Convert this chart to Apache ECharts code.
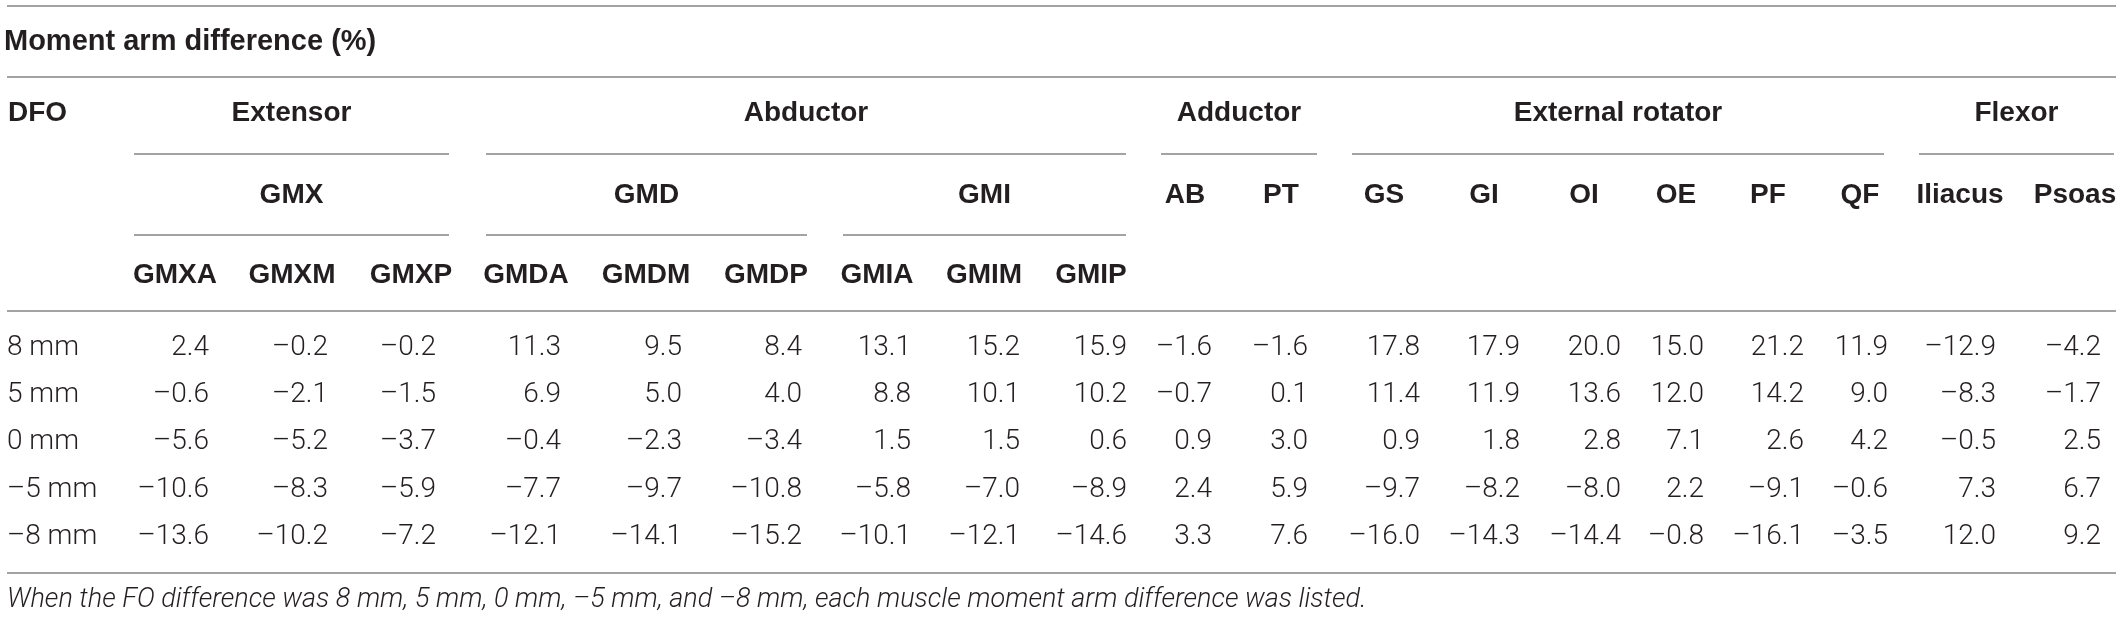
<!DOCTYPE html>
<html><head><meta charset="utf-8">
<script src="https://cdn.jsdelivr.net/npm/echarts@6/dist/echarts.min.js"></script>
<style>html,body{margin:0;padding:0;background:#fff}#c{width:2122px;height:618px}</style>
</head><body><div id="c"></div>
<script>
// ---------------- data ----------------
const TITLE = 'Moment arm difference (%)';
const ROW_HEAD = 'DFO';
const ROWS = ['8 mm', '5 mm', '0 mm', '–5 mm', '–8 mm'];
const COLUMNS = ['GMXA','GMXM','GMXP','GMDA','GMDM','GMDP','GMIA','GMIM','GMIP','AB','PT','GS','GI','OI','OE','PF','QF','Iliacus','Psoas'];
const GROUPS = ['Extensor', 'Abductor', 'Adductor', 'External rotator', 'Flexor'];
const GROUP_COLS = [[0, 2], [3, 8], [9, 10], [11, 16], [17, 18]];
const SUBGROUPS = ['GMX', 'GMD', 'GMI'];
const SUBGROUP_COLS = [[0, 2], [3, 5], [6, 8]];

const GMXA = [2.4, -0.6, -5.6, -10.6, -13.6];
const GMXM = [-0.2, -2.1, -5.2, -8.3, -10.2];
const GMXP = [-0.2, -1.5, -3.7, -5.9, -7.2];
const GMDA = [11.3, 6.9, -0.4, -7.7, -12.1];
const GMDM = [9.5, 5.0, -2.3, -9.7, -14.1];
const GMDP = [8.4, 4.0, -3.4, -10.8, -15.2];
const GMIA = [13.1, 8.8, 1.5, -5.8, -10.1];
const GMIM = [15.2, 10.1, 1.5, -7.0, -12.1];
const GMIP = [15.9, 10.2, 0.6, -8.9, -14.6];
const AB = [-1.6, -0.7, 0.9, 2.4, 3.3];
const PT = [-1.6, 0.1, 3.0, 5.9, 7.6];
const GS = [17.8, 11.4, 0.9, -9.7, -16.0];
const GI = [17.9, 11.9, 1.8, -8.2, -14.3];
const OI = [20.0, 13.6, 2.8, -8.0, -14.4];
const OE = [15.0, 12.0, 7.1, 2.2, -0.8];
const PF = [21.2, 14.2, 2.6, -9.1, -16.1];
const QF = [11.9, 9.0, 4.2, -0.6, -3.5];
const ILIACUS = [-12.9, -8.3, -0.5, 7.3, 12.0];
const PSOAS = [-4.2, -1.7, 2.5, 6.7, 9.2];
const VALUES = [GMXA, GMXM, GMXP, GMDA, GMDM, GMDP, GMIA, GMIM, GMIP, AB, PT, GS, GI, OI, OE, PF, QF, ILIACUS, PSOAS];

const FOOTNOTE = 'When the FO difference was 8 mm, 5 mm, 0 mm, –5 mm, and –8 mm, each muscle moment arm difference was listed.';

// ---------------- layout (positions / styles) ----------------
const W = 2122, H = 618;
const HEAD_X = [175, 292, 411, 526, 646, 766, 877, 984, 1091, 1185, 1281, 1384, 1484, 1584, 1676, 1768, 1860, 1960, 2075];
const NUM_R = [209, 328, 436, 561, 682, 802, 911, 1020, 1127, 1212, 1308, 1420, 1520, 1621, 1704, 1804, 1888, 1996, 2101];
const GROUP_LINE = [[134, 449], [486, 1126], [1161, 1317], [1352, 1884], [1919, 2114]];
const SUB_LINE = [[134, 449], [486, 807], [843, 1126]];
const Y = {top: 6, title: 42, l1: 77, h1: 113, gl: 154, h2: 195, sl: 235, h3: 275, l2: 311, l3: 573, foot: 600};
const ROW_TOP = 324.4, ROW_H = 47.2;
const LX0 = 7, LX1 = 2116;
const INK = '#231f20';
const RULE = '#a3a3a3';
const BOLD = 'bold 28px "Liberation Sans", Arial, sans-serif';
const TITLE_FONT = 'bold 29px "Liberation Sans", Arial, sans-serif';
const LIGHT_FAMILY = 'Roboto, "Liberation Sans", sans-serif';

const fmt = v => (v < 0 ? '–' : '') + Math.abs(v).toFixed(1);

// ---------------- build ----------------
const graphics = [];
function hline(x1, x2, y) {
  graphics.push({type: 'line', shape: {x1, y1: y, x2, y2: y}, style: {stroke: RULE, lineWidth: 2}, silent: true});
}
function txt(text, x, y, font, align, opts) {
  graphics.push({type: 'text', x, y, silent: true,
    style: Object.assign({text, font, fill: INK, align: align || 'center', verticalAlign: 'middle'}, opts || {})});
}
[Y.top, Y.l1, Y.l2, Y.l3].forEach(y => hline(LX0, LX1, y));
txt(TITLE, 4, Y.title, TITLE_FONT, 'left');
txt(ROW_HEAD, 8, Y.h1, BOLD, 'left');
GROUPS.forEach((g, i) => {
  const [a, b] = GROUP_LINE[i];
  txt(g, (a + b) / 2, Y.h1, BOLD);
  hline(a, b, Y.gl);
});
const inSub = new Array(COLUMNS.length).fill(false);
SUBGROUPS.forEach((g, i) => {
  const [a, b] = SUB_LINE[i];
  txt(g, (a + b) / 2, Y.h2, BOLD);
  hline(a, b, Y.sl);
  for (let c = SUBGROUP_COLS[i][0]; c <= SUBGROUP_COLS[i][1]; c++) inSub[c] = true;
});
COLUMNS.forEach((c, i) => txt(c, HEAD_X[i], inSub[i] ? Y.h3 : Y.h2, BOLD));
txt(FOOTNOTE, LX0, Y.foot, 'italic 300 27px ' + LIGHT_FAMILY, 'left');

const cells = [];
VALUES.forEach((arr, c) => arr.forEach((v, r) => cells.push([c, r, v])));

const chart = echarts.init(document.getElementById('c'), null, {renderer: 'canvas'});
chart.setOption({
  backgroundColor: '#fff',
  animation: false,
  grid: {left: 0, right: 0, top: ROW_TOP, height: ROW_H * ROWS.length, containLabel: false},
  xAxis: {type: 'value', min: 0, max: W, show: false},
  yAxis: {
    type: 'category', data: ROWS, inverse: true,
    axisLine: {show: false}, axisTick: {show: false}, splitLine: {show: false},
    axisLabel: {align: 'left', margin: -LX0, color: INK, fontSize: 28, fontWeight: 300, fontFamily: LIGHT_FAMILY}
  },
  series: [{
    type: 'custom',
    coordinateSystem: 'cartesian2d',
    data: cells,
    encode: {x: 0, y: 1},
    renderItem: (params, api) => {
      const c = api.value(0), r = api.value(1), v = api.value(2);
      const p = api.coord([NUM_R[c], r]);
      return {type: 'text', x: p[0], y: p[1],
        style: {text: fmt(v), font: '300 28px ' + LIGHT_FAMILY, fill: INK, align: 'right', verticalAlign: 'middle'}};
    }
  }],
  graphic: graphics
});
</script>
</body></html>
